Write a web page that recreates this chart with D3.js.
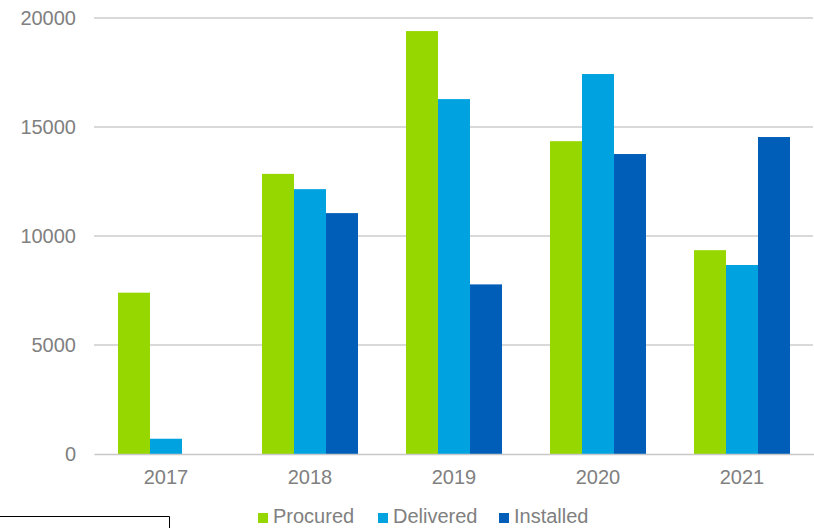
<!DOCTYPE html>
<html>
<head>
<meta charset="utf-8">
<script src="https://cdn.jsdelivr.net/npm/d3@7"></script>
<style>
  html, body { margin: 0; padding: 0; background: #fff; }
  svg { display: block; }
  text { font-family: "Liberation Sans", Arial, sans-serif; fill: #808080; }
</style>
</head>
<body>
<svg id="chart" width="814" height="528"></svg>
<script>
const years = ["2017", "2018", "2019", "2020", "2021"];
const seriesNames = ["Procured", "Delivered", "Installed"];
const procured  = [7400, 12850, 19400, 14350, 9350];
const delivered = [700, 12150, 16280, 17430, 8670];
const installed = [0, 11050, 7780, 13760, 14540];
const yTicks = [0, 5000, 10000, 15000, 20000];
const colors = ["#97d700", "#00a3e0", "#005eb8"];

const seriesValues = [procured, delivered, installed];
const svg = d3.select("#chart");
const plotLeft = 94, plotRight = 814, plotTop = 18, plotBottom = 454;
const fontFamily = '"Liberation Sans", Arial, sans-serif';

const x = d3.scaleBand().domain(years).range([plotLeft, plotRight]).paddingInner(0).paddingOuter(0);
const inner = d3.scaleBand().domain(seriesNames).range([24, x.bandwidth() - 24]).padding(0);
const y = d3.scaleLinear().domain([0, 20000]).range([plotBottom, plotTop]);

// gridlines
svg.append("g").selectAll("line").data(yTicks.filter(d => d > 0)).join("line")
  .attr("x1", plotLeft).attr("x2", plotRight - 1)
  .attr("y1", d => y(d)).attr("y2", d => y(d))
  .attr("stroke", "#cccccc").attr("stroke-width", 1.5);

// y labels
const yAxis = d3.axisLeft(y).tickValues(yTicks).tickSize(0).tickPadding(18).tickFormat(d3.format("d"));
const ya = svg.append("g").attr("transform", `translate(${plotLeft},0)`).call(yAxis);
ya.select(".domain").remove();
ya.selectAll(".tick text").attr("font-size", 20).attr("fill", "#808080").style("font-family", fontFamily);

// bars
const groups = svg.append("g").selectAll("g").data(years).join("g")
  .attr("transform", d => `translate(${x(d)},0)`);
groups.selectAll("rect").data((d, i) => seriesNames.map((s, j) => ({s, j, v: seriesValues[j][i]})))
  .join("rect")
  .attr("x", d => inner(d.s))
  .attr("width", inner.bandwidth())
  .attr("y", d => y(d.v))
  .attr("height", d => plotBottom - y(d.v))
  .attr("fill", d => colors[d.j]);

// x axis
const xAxis = d3.axisBottom(x).tickSize(0).tickPadding(16);
const xa = svg.append("g").attr("transform", `translate(0,${plotBottom})`).call(xAxis);
xa.select(".domain").attr("stroke", "#c8c8c8").attr("stroke-width", 1.5);
xa.selectAll(".tick text").attr("font-size", 20).attr("fill", "#808080").style("font-family", fontFamily);

// legend
const legendX = [258, 378, 499];
const lg = svg.append("g").selectAll("g").data(seriesNames).join("g")
  .attr("transform", (d, i) => `translate(${legendX[i]},513)`);
lg.append("rect").attr("x", 0).attr("y", 0).attr("width", 10).attr("height", 10)
  .attr("fill", (d, i) => colors[i]);
lg.append("text").attr("x", 15).attr("y", 10).attr("font-size", 20).text(d => d);

// frame remnant bottom-left
svg.append("path").attr("d", "M0,516.5 H169.5 V528").attr("fill", "none").attr("stroke", "#000").attr("stroke-width", 1);
</script>
</body>
</html>
